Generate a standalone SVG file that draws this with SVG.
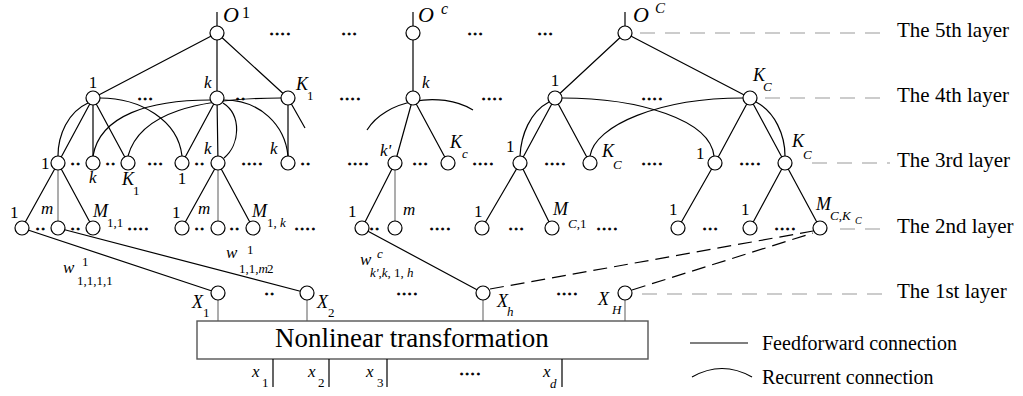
<svg xmlns="http://www.w3.org/2000/svg" xmlns:xlink="http://www.w3.org/1999/xlink" width="1023" height="396" viewBox="0 0 1023 396">
<style>
text{font-family:"Liberation Serif","Times New Roman",serif;fill:#000}
.i{font-style:italic}
.n{font-size:17px}
.b{font-size:18px}
.s{font-size:13px}
.ss{font-size:10px}
.o{font-size:22px}
.d{font-size:13px;font-weight:bold;letter-spacing:2.3px;stroke:#000;stroke-width:0.8}
.lay{font-size:21px}
.leg{font-size:20px}
.ff{stroke:#000;stroke-width:1.2;fill:none}
.g{stroke:#777}
.da{stroke:#000;stroke-width:1.2;stroke-dasharray:14 7;fill:none}
.gl{stroke:#9a9a9a;stroke-width:1.2;stroke-dasharray:15 10;fill:none}
.nd{fill:#fff;stroke:#000;stroke-width:1.2}
.c{text-anchor:middle}
</style>
<defs>
<circle id="nd" class="nd" r="7"/>
</defs>

<g id="connectors">
  <path class="ff" d="M217,12V26M413,12V26M625,12V26"/>
  <path class="ff" d="M217,33L93,98M217,33L217,98M217,33L288,98M413,33L413,98M625,33L555,98M625,33L750,98"/>
  <path class="ff" d="M93,98L58,163M93,98L93,163M93,98L128,163M217,98L182,163M217,98L218,163M288,98L288,163M288,98L305,128M413,98L395,163M413,98L448,163M555,98L520,163M555,98L590,163M750,98L715,163M750,98L785,163"/>
  <path class="ff" d="M58,163L22,228M58,163L93,228M218,163L182,228M218,163L253,228M395,163L362,228M520,163L482,228M520,163L552,228M715,163L678,228M785,163L750,228M785,163L820,228"/>
  <path class="ff g" d="M58,163V228M218,163V228M395,163V228"/>
  <path class="ff" d="M22,228L218,293M58,228L307,293M362,228L483,293"/>
  <path class="da" d="M490,289L813,231M632,290L813,233"/>
  <path class="ff g" d="M218,300V321M307,300V321M483,300V321M625,300V321"/>
  <path class="ff" d="M88,103C68,112 58,135 58,156"/>
  <path class="ff" d="M100,98C140,98 178,120 182,156"/>
  <path class="ff" d="M210,100C150,100 100,115 93,156"/>
  <path class="ff" d="M281,98C200,98 140,112 128,156"/>
  <path class="ff" d="M223,103C242,115 240,145 224,158"/>
  <path class="ff" d="M224,100C260,100 285,125 288,156"/>
  <path class="ff" d="M367,130C385,100 440,90 473,110"/>
  <path class="ff" d="M549,102C530,112 521,135 520,156"/>
  <path class="ff" d="M562,98C640,98 710,120 714,156"/>
  <path class="ff" d="M743,98C660,98 595,125 590,156"/>
  <path class="ff" d="M756,102C775,112 785,135 785,156"/>
  <text class="n i" x="63" y="273">w</text>
  <text class="s" x="82" y="266">1</text>
  <text class="s" x="77" y="285">1,1,1,1</text>
  <text class="n i" x="226" y="258">w</text>
  <text class="s" x="247" y="254">1</text>
  <text class="s" x="239" y="273">1,1,<tspan class="i">m</tspan><tspan dx="-1">2</tspan></text>
  <text class="n i" x="360" y="265">w</text>
  <text class="s i" x="377" y="258">c</text>
  <text class="s" x="370" y="277"><tspan class="i">k'</tspan>,<tspan class="i">k</tspan>, 1, <tspan class="i">h</tspan></text>
</g>

<g id="O1"><use xlink:href="#nd" x="217" y="33"/><text class="o i" x="223" y="22">O</text><text style="font-size:16px" x="242" y="18">1</text></g>
<g id="Oc"><use xlink:href="#nd" x="413" y="33"/><text class="o i" x="418" y="22">O</text><text class="i" style="font-size:16px" x="441" y="14">c</text></g>
<g id="OC"><use xlink:href="#nd" x="625" y="33"/><text class="o i" x="633" y="22">O</text><text class="i" style="font-size:15px" x="655" y="13">C</text></g>

<g id="L4-1-1"><use xlink:href="#nd" x="93" y="98"/><text class="n c" x="93" y="88">1</text></g>
<g id="L4-1-k"><use xlink:href="#nd" x="217" y="98"/><text class="n i" x="204" y="88">k</text></g>
<g id="L4-1-K1"><use xlink:href="#nd" x="288" y="98"/><text class="b i" x="296" y="90">K</text><text class="s" x="307" y="100">1</text></g>
<g id="L4-c-k"><use xlink:href="#nd" x="413" y="98"/><text class="n i" x="422" y="88">k</text></g>
<g id="L4-C-1"><use xlink:href="#nd" x="555" y="98"/><text class="n c" x="555" y="86">1</text></g>
<g id="L4-C-KC"><use xlink:href="#nd" x="750" y="98"/><text class="b i" x="753" y="81">K</text><text class="s i" x="763" y="91">C</text></g>

<g id="L3-a"><use xlink:href="#nd" x="58" y="163"/><text class="n" x="41" y="169">1</text></g>
<g id="L3-b"><use xlink:href="#nd" x="93" y="163"/><text class="n i" x="89" y="183">k</text></g>
<g id="L3-c"><use xlink:href="#nd" x="128" y="163"/><text class="b i" x="122" y="185">K</text><text class="s" x="133" y="195">1</text></g>
<g id="L3-d"><use xlink:href="#nd" x="182" y="163"/><text class="n c" x="182" y="184">1</text></g>
<g id="L3-e"><use xlink:href="#nd" x="218" y="163"/><text class="n i" x="204" y="154">k</text></g>
<g id="L3-f"><use xlink:href="#nd" x="288" y="163"/><text class="n i" x="270" y="154">k</text></g>
<g id="L3-g"><use xlink:href="#nd" x="395" y="163"/><text class="n i" x="380" y="156">k'</text></g>
<g id="L3-h"><use xlink:href="#nd" x="448" y="163"/><text class="b i" x="450" y="148">K</text><text class="s i" x="462" y="158">c</text></g>
<g id="L3-i"><use xlink:href="#nd" x="520" y="163"/><text class="n" x="506" y="152">1</text></g>
<g id="L3-j"><use xlink:href="#nd" x="590" y="163"/><text class="b i" x="602" y="157">K</text><text class="s i" x="613" y="169">C</text></g>
<g id="L3-k"><use xlink:href="#nd" x="715" y="163"/><text class="n" x="696" y="159">1</text></g>
<g id="L3-l"><use xlink:href="#nd" x="785" y="163"/><text class="b i" x="792" y="147">K</text><text class="s i" x="803" y="159">C</text></g>

<g id="L2-a"><use xlink:href="#nd" x="22" y="228"/><text class="n" x="10" y="218">1</text></g>
<g id="L2-b"><use xlink:href="#nd" x="58" y="228"/><text class="n i" x="41" y="214">m</text></g>
<g id="L2-c"><use xlink:href="#nd" x="93" y="228"/><text class="b i" x="93" y="217">M</text><text class="s" x="107" y="227">1,1</text></g>
<g id="L2-d"><use xlink:href="#nd" x="182" y="228"/><text class="n" x="172" y="218">1</text></g>
<g id="L2-e"><use xlink:href="#nd" x="218" y="228"/><text class="n i" x="198" y="214">m</text></g>
<g id="L2-f"><use xlink:href="#nd" x="253" y="228"/><text class="b i" x="252" y="217">M</text><text class="s" x="267" y="227">1, <tspan class="i">k</tspan></text></g>
<g id="L2-g"><use xlink:href="#nd" x="362" y="228"/><text class="n" x="348" y="217">1</text></g>
<g id="L2-h"><use xlink:href="#nd" x="395" y="228"/><text class="n i" x="403" y="215">m</text></g>
<g id="L2-i"><use xlink:href="#nd" x="482" y="228"/><text class="n" x="474" y="217">1</text></g>
<g id="L2-j"><use xlink:href="#nd" x="552" y="228"/><text class="b i" x="553" y="215">M</text><text class="s" x="568" y="228"><tspan class="i">C</tspan>,1</text></g>
<g id="L2-k"><use xlink:href="#nd" x="678" y="228"/><text class="n" x="669" y="215">1</text></g>
<g id="L2-l"><use xlink:href="#nd" x="750" y="228"/><text class="n" x="741" y="215">1</text></g>
<g id="L2-m"><use xlink:href="#nd" x="820" y="228"/><text class="b i" x="816" y="210">M</text><text class="s" x="830" y="220"><tspan class="i">C</tspan>,<tspan class="i">K</tspan></text><text class="ss i" x="855" y="224">C</text></g>

<g id="X1"><use xlink:href="#nd" x="218" y="293"/><text class="b i" x="192" y="308">X</text><text class="s" x="203" y="317">1</text></g>
<g id="X2"><use xlink:href="#nd" x="307" y="293"/><text class="b i" x="317" y="308">X</text><text class="s" x="328" y="317">2</text></g>
<g id="Xh"><use xlink:href="#nd" x="483" y="293"/><text class="b i" x="497" y="307">X</text><text class="s i" x="507" y="316">h</text></g>
<g id="XH"><use xlink:href="#nd" x="625" y="293"/><text class="b i" x="598" y="305">X</text><text class="s i" x="612" y="314">H</text></g>

<g id="box">
  <rect x="197" y="321" width="451" height="38" fill="#fff" stroke="#555" stroke-width="1.4"/>
  <text x="275" y="347" style="font-size:27px">Nonlinear transformation</text>
</g>

<g id="inputs">
  <path class="ff" d="M273,359V387M329,359V387M387,359V387M562,359V387"/>
  <text class="n i" x="252" y="377">x</text><text class="s" x="262" y="387">1</text>
  <text class="n i" x="308" y="377">x</text><text class="s" x="318" y="387">2</text>
  <text class="n i" x="366" y="377">x</text><text class="s" x="377" y="387">3</text>
  <text class="n i" x="543" y="377">x</text><text class="s i" x="550" y="388">d</text>
  <text class="d" x="460" y="375">....</text>
</g>

<g id="dots">
  <text class="d" x="270" y="35">....</text>
  <text class="d" x="342" y="35">...</text>
  <text class="d" x="468" y="35">...</text>
  <text class="d" x="538" y="35">...</text>
  <text class="d" x="138" y="100">...</text>
  <text class="d" x="236" y="100">..</text>
  <text class="d" x="340" y="100">....</text>
  <text class="d" x="482" y="100">....</text>
  <text class="d" x="642" y="100">....</text>
  <text class="d" x="71" y="165">..</text>
  <text class="d" x="106" y="165">..</text>
  <text class="d" x="148" y="165">...</text>
  <text class="d" x="195" y="165">..</text>
  <text class="d" x="242" y="165">....</text>
  <text class="d" x="301" y="165">..</text>
  <text class="d" x="348" y="165">....</text>
  <text class="d" x="413" y="165">...</text>
  <text class="d" x="473" y="165">....</text>
  <text class="d" x="545" y="165">....</text>
  <text class="d" x="642" y="165">....</text>
  <text class="d" x="740" y="165">....</text>
  <text class="d" x="36" y="230">..</text>
  <text class="d" x="71" y="230">..</text>
  <text class="d" x="128" y="230">....</text>
  <text class="d" x="195" y="230">..</text>
  <text class="d" x="230" y="230">..</text>
  <text class="d" x="295" y="230">....</text>
  <text class="d" x="370" y="230">..</text>
  <text class="d" x="430" y="230">....</text>
  <text class="d" x="509" y="230">...</text>
  <text class="d" x="597" y="230">....</text>
  <text class="d" x="703" y="230">...</text>
  <text class="d" x="775" y="230">....</text>
  <text class="d" x="265" y="295">..</text>
  <text class="d" x="397" y="295">....</text>
  <text class="d" x="557" y="295">....</text>
</g>

<g id="layers">
  <path class="gl" d="M640,33H883M765,98H883M812,163H890M840,229H885M642,294H883"/>
  <text class="lay" x="897" y="37">The 5th layer</text>
  <text class="lay" x="897" y="102">The 4th layer</text>
  <text class="lay" x="897" y="167">The 3rd layer</text>
  <text class="lay" x="897" y="233">The 2nd layer</text>
  <text class="lay" x="897" y="298">The 1st layer</text>
</g>

<g id="legend">
  <path class="ff" d="M690,343H748"/>
  <text class="leg" x="762" y="350">Feedforward connection</text>
  <path class="ff" d="M692,377Q722,360 752,377"/>
  <text class="leg" x="762" y="384">Recurrent connection</text>
</g>
</svg>
